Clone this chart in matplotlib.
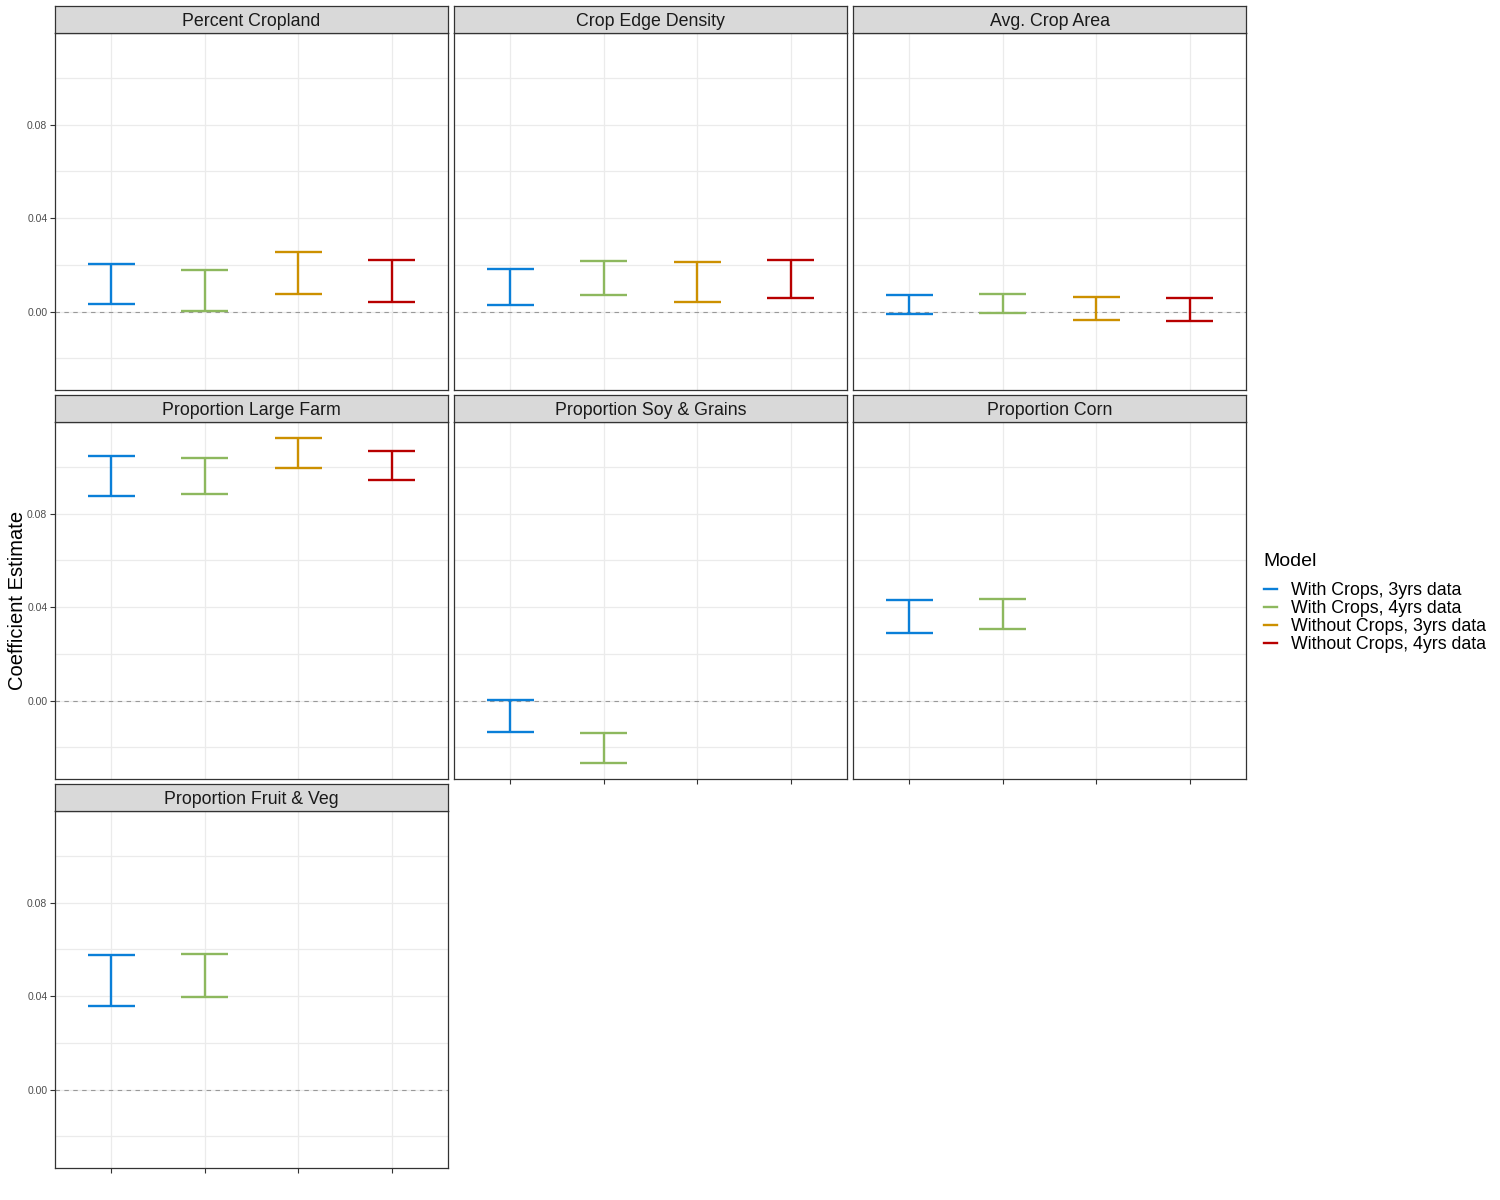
import numpy as np
import matplotlib
matplotlib.use("Agg")
import matplotlib.pyplot as plt
from matplotlib.lines import Line2D
from matplotlib.ticker import FormatStrFormatter

plt.rcParams["font.family"] = ["Liberation Sans", "DejaVu Sans"]

# -----------------------------
# Data
# -----------------------------
facet_titles = [
    "Percent Cropland",
    "Crop Edge Density",
    "Avg. Crop Area",
    "Proportion Large Farm",
    "Proportion Soy & Grains",
    "Proportion Corn",
    "Proportion Fruit & Veg",
]

model_names = [
    "With Crops, 3yrs data",
    "With Crops, 4yrs data",
    "Without Crops, 3yrs data",
    "Without Crops, 4yrs data",
]
model_colors = ["#0A7FD8", "#8DB85E", "#CC9000", "#B80000"]
x_positions = [1, 2, 3, 4]

nan = np.nan
ci_lower = [
    [0.0031, 0.0001, 0.0074, 0.0040],
    [0.0027, 0.0072, 0.0040, 0.0059],
    [-0.0010, -0.0006, -0.0037, -0.0042],
    [0.0877, 0.0882, 0.0997, 0.0946],
    [-0.0134, -0.0266, nan, nan],
    [0.0289, 0.0306, nan, nan],
    [0.0358, 0.0397, nan, nan],
]
ci_upper = [
    [0.0205, 0.0179, 0.0256, 0.0222],
    [0.0184, 0.0218, 0.0214, 0.0222],
    [0.0072, 0.0076, 0.0063, 0.0059],
    [0.1046, 0.1036, 0.1123, 0.1067],
    [0.0003, -0.0138, nan, nan],
    [0.0430, 0.0434, nan, nan],
    [0.0575, 0.0579, nan, nan],
]

y_major = [0.00, 0.04, 0.08]
y_minor = [-0.02, 0.02, 0.06, 0.10]
y_limits = (-0.0335, 0.1192)

# -----------------------------
# Layout
# -----------------------------
W, H = 1500, 1200
fig = plt.figure(figsize=(15, 12), dpi=100)

col_left = [55, 454, 853]
panel_w = 393
row_top = [33, 422, 811]
panel_h = 357
strip_h = 27
ncol = 3

for k, title in enumerate(facet_titles):
    r, c = divmod(k, ncol)
    left = col_left[c] / W
    bottom = 1 - (row_top[r] + panel_h) / H
    ax = fig.add_axes([left, bottom, panel_w / W, panel_h / H])

    ax.set_xlim(0.4, 4.6)
    ax.set_ylim(*y_limits)
    ax.set_xticks(x_positions)
    ax.set_yticks(y_major)
    ax.set_yticks(y_minor, minor=True)
    ax.yaxis.set_major_formatter(FormatStrFormatter("%.2f"))
    ax.grid(which="major", color="#EBEBEB", linewidth=0.9)
    ax.grid(which="minor", axis="y", color="#EBEBEB", linewidth=0.9)
    ax.set_axisbelow(True)
    for s in ax.spines.values():
        s.set_color("#333333")
        s.set_linewidth(0.9)

    ax.axhline(0, color="#999999", linestyle=(0, (4, 4)), linewidth=0.8, zorder=1)

    for j, x in enumerate(x_positions):
        lo, hi = ci_lower[k][j], ci_upper[k][j]
        if np.isnan(lo):
            continue
        ax.vlines(x, lo, hi, color=model_colors[j], linewidth=1.7, zorder=3)
        ax.hlines([lo, hi], x - 0.25, x + 0.25, color=model_colors[j],
                  linewidth=1.7, zorder=3)

    # axes only on outer edges (like facet_wrap)
    show_y = c == 0
    show_x = (k + ncol) >= len(facet_titles)
    ax.tick_params(which="minor", length=0)
    ax.tick_params(axis="y", which="major", length=3.5 if show_y else 0,
                   width=0.8, color="#333333", labelsize=7.5,
                   labelcolor="#4D4D4D", labelleft=show_y, pad=2)
    ax.tick_params(axis="x", which="major", length=3.5 if show_x else 0,
                   width=0.8, color="#333333", labelbottom=False)

    # strip
    sax = fig.add_axes([left, 1 - row_top[r] / H, panel_w / W, strip_h / H])
    sax.set_facecolor("#D9D9D9")
    sax.set_xticks([])
    sax.set_yticks([])
    for s in sax.spines.values():
        s.set_color("#333333")
        s.set_linewidth(0.9)
    sax.text(0.5, 0.42, title, ha="center", va="center", fontsize=12.8,
             color="#1A1A1A", transform=sax.transAxes)

fig.text(0.0115, 0.5, "Coefficient Estimate", rotation=90, ha="center",
         va="center", fontsize=14.5)

# legend
fig.text(1263 / W, 1 - 562 / H, "Model", ha="left", va="center", fontsize=14)
handles = [Line2D([], [], color=col, linewidth=1.7) for col in model_colors]
leg = fig.legend(handles, model_names, loc="center left",
                 bbox_to_anchor=(1264 / W, 1 - 617.5 / H), frameon=False,
                 fontsize=12.8, handlelength=0.75,
                 handletextpad=0.75, labelspacing=0.05, borderpad=0,
                 borderaxespad=0)

fig.savefig("out.png", dpi=100)
plt.close(fig)
